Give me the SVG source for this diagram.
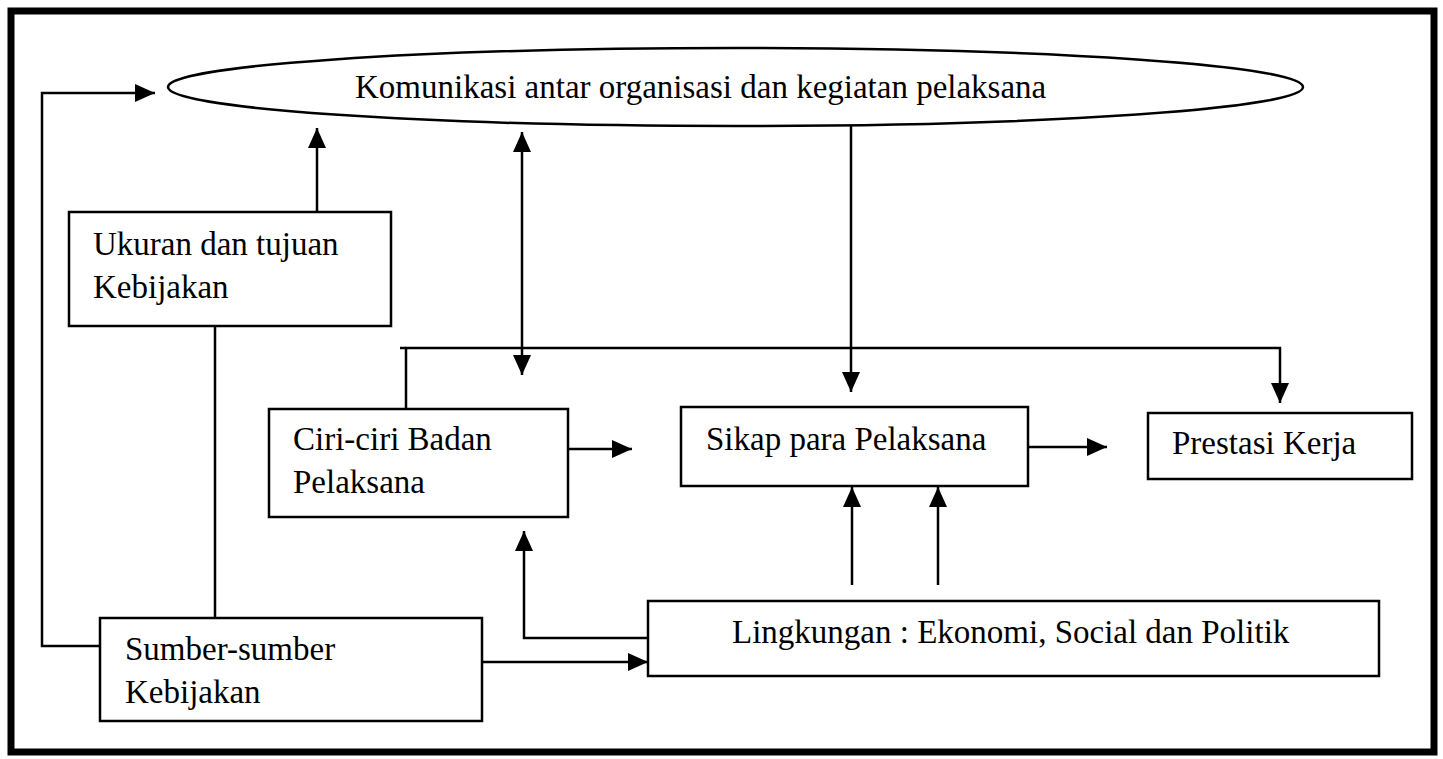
<svg xmlns="http://www.w3.org/2000/svg" width="1443" height="759" viewBox="0 0 1443 759">
<style>
.box{fill:#fff;stroke:#000;stroke-width:2.5}
.t{font-family:"Liberation Serif","Times New Roman",serif;font-size:33px;fill:#000}
.c{fill:none;stroke:#000;stroke-width:2.5}
.a{marker-end:url(#ah)}
</style>
<defs>
<marker id="ah" viewBox="0 0 20 18" refX="20" refY="9" markerWidth="20" markerHeight="18" markerUnits="userSpaceOnUse" orient="auto-start-reverse">
<path d="M0,0 L20,9 L0,18 z" fill="#000"/>
</marker>
</defs>
<rect x="0" y="0" width="1443" height="759" fill="#fff"/>
<rect id="frame" x="11" y="11" width="1423" height="741" fill="none" stroke="#000" stroke-width="7"/>
<g id="connectors">
<path class="c a" d="M100,646 L42,646 L42,93 L155,93"/>
<path class="c a" d="M317,212 L317,128"/>
<path class="c" d="M215,326 L215,618"/>
<path class="c a" d="M522,375 L522,132" style="marker-start:url(#ah)"/>
<path class="c a" d="M851,126 L851,392"/>
<path class="c a" d="M406,409 L406,348 L1280,348 L1280,403"/>
<path class="c" d="M400,348 L406,348"/>
<path class="c a" d="M568,449 L632,449"/>
<path class="c a" d="M1028,447 L1107,447"/>
<path class="c a" d="M852,585 L852,487"/>
<path class="c a" d="M938,585 L938,487"/>
<path class="c a" d="M648,638 L524,638 L524,531"/>
<path class="c a" d="M482,662 L648,662"/>
</g>
<g id="n-komunikasi">
<ellipse class="box" cx="735.5" cy="87" rx="567.5" ry="39"/>
<text class="t" x="355" y="98">Komunikasi antar organisasi dan kegiatan pelaksana</text>
</g>
<g id="n-ukuran">
<rect class="box" x="69" y="212" width="322" height="114"/>
<text class="t" x="93" y="255">Ukuran dan tujuan</text>
<text class="t" x="93" y="298">Kebijakan</text>
</g>
<g id="n-ciri">
<rect class="box" x="269" y="409" width="299" height="108"/>
<text class="t" x="293" y="450">Ciri-ciri Badan</text>
<text class="t" x="293" y="493">Pelaksana</text>
</g>
<g id="n-sikap">
<rect class="box" x="681" y="407" width="347" height="79"/>
<text class="t" x="706" y="450">Sikap para Pelaksana</text>
</g>
<g id="n-prestasi">
<rect class="box" x="1148" y="413" width="264" height="66"/>
<text class="t" x="1172" y="454">Prestasi Kerja</text>
</g>
<g id="n-lingkungan">
<rect class="box" x="648" y="601" width="731" height="75"/>
<text class="t" x="732" y="643">Lingkungan : Ekonomi, Social dan Politik</text>
</g>
<g id="n-sumber">
<rect class="box" x="100" y="618" width="382" height="103"/>
<text class="t" x="125" y="660">Sumber-sumber</text>
<text class="t" x="125" y="703">Kebijakan</text>
</g>
</svg>
